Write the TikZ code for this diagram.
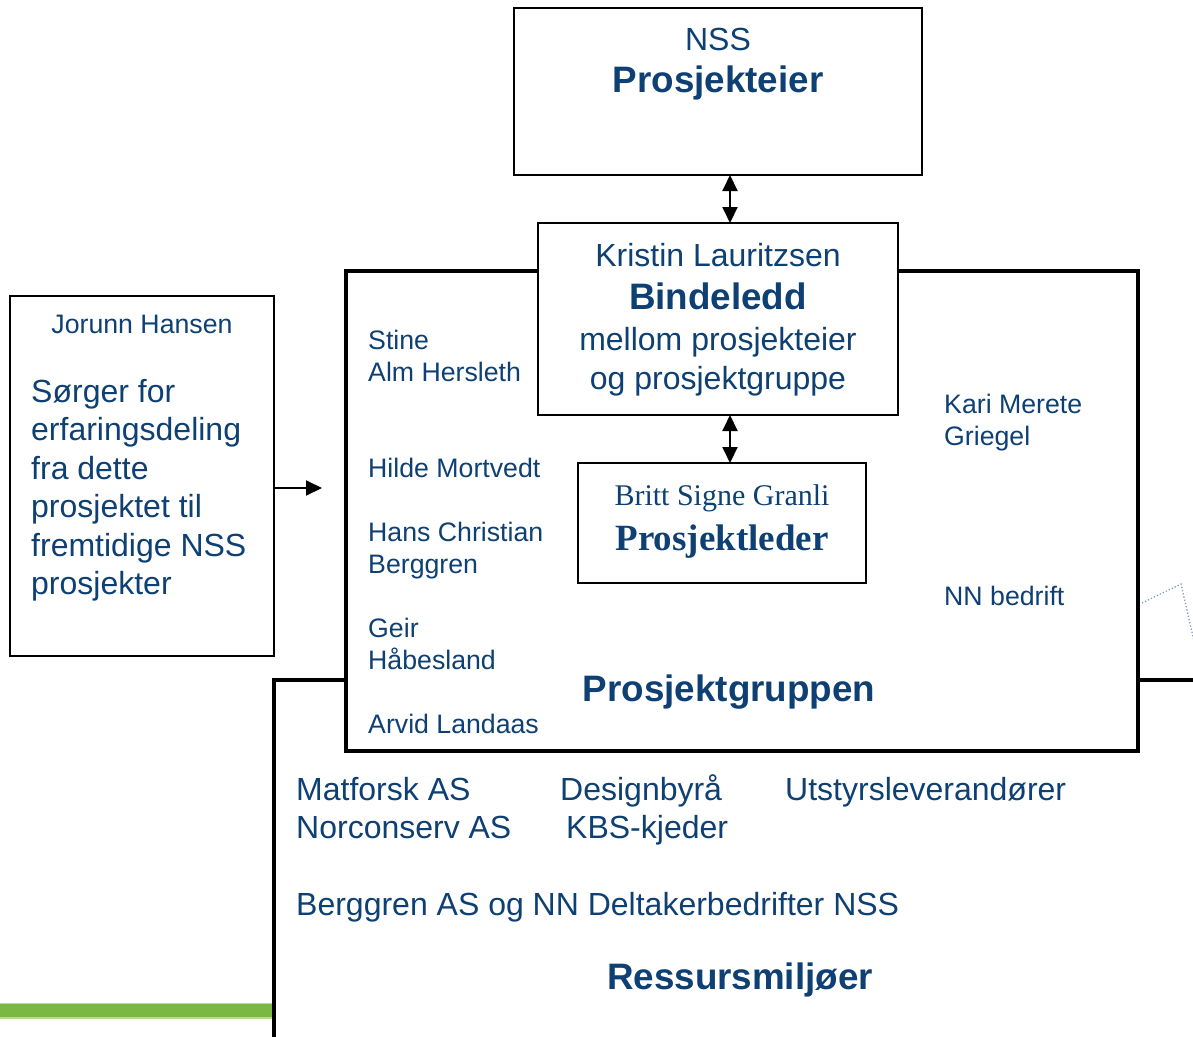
\documentclass[tikz,border=0pt]{standalone}
\usepackage{fontspec}
\setmainfont{Liberation Sans}
\newfontfamily\seriffont{Liberation Serif}
\usetikzlibrary{arrows.meta}
\definecolor{txt}{RGB}{14,64,115}
\definecolor{grn}{RGB}{122,184,67}
\definecolor{lgrn}{RGB}{184,219,155}
\definecolor{dotc}{RGB}{130,160,190}
\tikzset{
  thinbox/.style={draw=black, line width=1.5pt, fill=white, inner sep=0pt, outer sep=0pt},
  thickbox/.style={draw=black, line width=3.5pt, fill=white, inner sep=0pt, outer sep=0pt},
  lbl/.style={text=txt, inner sep=0pt, anchor=base},
  lbll/.style={text=txt, inner sep=0pt, anchor=base west},
  dbl/.style={line width=2pt, {Triangle[width=15pt,length=16pt]}-{Triangle[width=15pt,length=16pt]}},
  sgl/.style={line width=2pt, -{Triangle[width=15pt,length=16pt]}},
}
\newcommand{\fsN}{\fontsize{26.7}{30}\selectfont}
\newcommand{\fsM}{\fontsize{32}{36}\selectfont}
\newcommand{\fsB}{\fontsize{36.8}{42}\selectfont\bfseries}
\begin{document}
\begin{tikzpicture}[x=1pt,y=-1pt]
\useasboundingbox (0,0) rectangle (1193,1036);
\clip (0,0) rectangle (1193,1036);
% green bar
\fill[lgrn] (0,1002.5) rectangle (272,1018.5);
\fill[grn] (0,1004) rectangle (272,1016.5);
% Ressursmiljoer box (extends beyond the page)
\node[thickbox, minimum width=1000, minimum height=500, anchor=north west] (res) at (274,680) {};
% Prosjektgruppen box
\node[thickbox, minimum width=792, minimum height=480, anchor=north west] (grp) at (346,271) {};
% dotted partial shape at right
\draw[dotc, dotted, line width=1.3pt] (1142,603) -- (1181,584) -- (1196,650);
% NSS box
\node[thinbox, minimum width=408, minimum height=167, anchor=north west] (nss) at (514,8) {};
% Bindeledd box
\node[thinbox, minimum width=360, minimum height=192, anchor=north west] (bind) at (538,223) {};
% Prosjektleder box
\node[thinbox, minimum width=288, minimum height=120, anchor=north west] (leder) at (578,463) {};
% Jorunn box
\node[thinbox, minimum width=264, minimum height=360, anchor=north west] (jor) at (10,296) {};
% arrows
\draw[dbl] ([xshift=12pt]nss.south) -- ([xshift=12pt]bind.north);
\draw[dbl] ([xshift=12pt]bind.south) -- ([xshift=12pt]bind.south |- leder.north);
\coordinate (jend) at (322,488);
\draw[sgl] (jor.east |- jend) -- (jend);
% NSS text
\node[lbl, font=\fsM] (t1) at (718,50) {NSS};
\node[lbl, font=\fsB] (t2) at (718,92) {Prosjekteier};
% Bindeledd text
\node[lbl, font=\fsM] (t3) at (718,266) {Kristin Lauritzsen};
\node[lbl, font=\fsB] (t4) at (718,309) {Bindeledd};
\node[lbl, font=\fsM] (t5) at (718,350) {mellom prosjekteier};
\node[lbl, font=\fsM] (t6) at (718,389) {og prosjektgruppe};
% Prosjektleder text
\node[lbl, font=\seriffont\fontsize{30}{34}\selectfont] (t7) at (722,505) {Britt Signe Granli};
\node[lbl, font=\seriffont\fontsize{37}{42}\selectfont\bfseries] (t8) at (722,550) {Prosjektleder};
% group names left
\node[lbll, font=\fsN] (n1) at (368,349) {Stine};
\node[lbll, font=\fsN] (n2) at (368,381) {Alm Hersleth};
\node[lbll, font=\fsN] (n3) at (368,477) {Hilde Mortvedt};
\node[lbll, font=\fsN] (n4) at (368,541) {Hans Christian};
\node[lbll, font=\fsN] (n5) at (368,573) {Berggren};
\node[lbll, font=\fsN] (n6) at (368,637) {Geir};
\node[lbll, font=\fsN] (n7) at (368,669) {Håbesland};
\node[lbll, font=\fsN] (n8) at (368,733) {Arvid Landaas};
% group names right
\node[lbll, font=\fsN] (n9) at (944,413) {Kari Merete};
\node[lbll, font=\fsN] (n10) at (944,445) {Griegel};
\node[lbll, font=\fsN] (n11) at (944,605) {NN bedrift};
\node[lbl, font=\fsB] (grpt) at (729,701) {Prosjektgruppen};
% Jorunn text
\node[lbl, font=\fsN] (j0) at (142,333) {Jorunn Hansen};
\node[lbll, font=\fsM] (j1) at (31,402) {Sørger for};
\node[lbll, font=\fsM] (j2) at (31,440.5) {erfaringsdeling};
\node[lbll, font=\fsM] (j3) at (31,479) {fra dette};
\node[lbll, font=\fsM] (j4) at (31,517.5) {prosjektet til};
\node[lbll, font=\fsM] (j5) at (31,556) {fremtidige NSS};
\node[lbll, font=\fsM] (j6) at (31,594.5) {prosjekter};
% Ressurs text
\node[lbll, font=\fsM] (r1) at (296,800) {Matforsk AS};
\node[lbll, font=\fsM] (r2) at (296,838) {Norconserv AS};
\node[lbll, font=\fsM] (r3) at (560,800) {Designbyrå};
\node[lbll, font=\fsM] (r4) at (566,838) {KBS-kjeder};
\node[lbll, font=\fsM] (r5) at (785,800) {Utstyrsleverandører};
\node[lbll, font=\fsM] (r6) at (296,915) {Berggren AS og NN Deltakerbedrifter NSS};
\node[lbl, font=\fsB] (rest) at (740,989) {Ressursmiljøer};
\end{tikzpicture}
\end{document}
